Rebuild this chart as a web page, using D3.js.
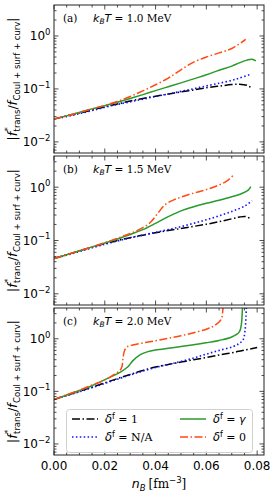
<!DOCTYPE html>
<html><head><meta charset="utf-8">
<script src="https://cdn.jsdelivr.net/npm/d3@7"></script>
<style>body{margin:0;background:#fff}svg{display:block}</style>
</head><body><svg id="c" width="270" height="495"></svg>
<script>
// ---------------- DATA ----------------
const panelTags = ["(a)", "(b)", "(c)"];
const panelTemps = ["1.0", "1.5", "2.0"];
const xTickValues = [0, 0.02, 0.04, 0.06, 0.08];
const xTickLabels = ["0.00", "0.02", "0.04", "0.06", "0.08"];
const yTickValues = [0.01, 0.1, 1];
const yTickExps = ["\u22122", "\u22121", "0"];
const seriesKeys = ["d1", "na", "gamma", "d0"];

// panel (a) kBT = 1.0 MeV
const a_d1_x = [0, .005, .01, .015, .02, .025, .03, .035, .04, .045, .05, .055, .06, .065, .07, .073, .076, .078];
const a_d1_y = [.027, .031, .035, .040, .046, .052, .059, .066, .073, .080, .088, .096, .105, .113, .121, .123, .117, .103];
const a_na_x = [0, .005, .01, .015, .02, .025, .03, .035, .04, .045, .05, .055, .06, .065, .07, .073, .0775];
const a_na_y = [.027, .030, .034, .039, .045, .051, .057, .064, .072, .080, .090, .101, .114, .128, .145, .160, .190];
const a_gm_x = [0, .005, .01, .015, .02, .025, .03, .035, .04, .045, .05, .055, .06, .065, .07, .073, .076, .078, .0795];
const a_gm_y = [.027, .031, .036, .042, .048, .056, .066, .078, .093, .110, .130, .155, .185, .225, .270, .310, .350, .365, .340];
const a_d0_x = [0, .005, .01, .015, .02, .025, .03, .035, .04, .045, .05, .055, .06, .065, .07, .0755];
const a_d0_y = [.027, .031, .036, .042, .049, .058, .072, .092, .120, .160, .230, .320, .400, .480, .580, .860];

// panel (b) kBT = 1.5 MeV
const b_d1_x = [0, .005, .01, .015, .02, .025, .03, .035, .04, .045, .05, .055, .06, .065, .07, .073, .0755, .077];
const b_d1_y = [.046, .054, .064, .075, .087, .100, .113, .126, .140, .154, .168, .184, .202, .225, .255, .275, .282, .262];
const b_na_x = [0, .005, .01, .015, .02, .025, .03, .035, .04, .045, .05, .055, .06, .065, .07, .075, .078];
const b_na_y = [.046, .053, .062, .073, .085, .098, .112, .126, .142, .160, .182, .210, .245, .290, .350, .440, .560];
const b_gm_x = [0, .005, .01, .015, .02, .025, .03, .035, .04, .045, .05, .055, .06, .065, .07, .074, .0765, .0775];
const b_gm_y = [.046, .054, .064, .076, .090, .107, .130, .160, .210, .280, .360, .430, .500, .570, .660, .760, .880, 1.02];
const b_d0_x = [0, .005, .01, .015, .02, .025, .03, .035, .038, .041, .044, .048, .052, .056, .06, .064, .068, .0705];
const b_d0_y = [.046, .054, .064, .076, .091, .110, .135, .175, .220, .330, .480, .600, .700, .800, .900, 1.05, 1.30, 1.65];

// panel (c) kBT = 2.0 MeV
const c_d1_x = [0, .005, .01, .015, .02, .025, .03, .035, .04, .045, .05, .055, .06, .065, .07, .075, .08];
const c_d1_y = [.070, .084, .100, .120, .145, .175, .210, .250, .290, .325, .360, .400, .440, .490, .540, .610, .680];
const c_na_x = [0, .005, .01, .015, .02, .025, .03, .035, .04, .045, .05, .055, .06, .065, .0705, .073, .0745, .0752, .0756, .0758];
const c_na_y = [.070, .083, .098, .118, .142, .170, .205, .243, .285, .325, .370, .430, .510, .600, .710, .820, .960, 1.40, 2.60, 5.0];
const c_gm_x = [0, .005, .01, .015, .018, .022, .026, .029, .031, .034, .037, .04, .045, .05, .055, .06, .065, .07, .073, .0738, .0741, .0743];
const c_gm_y = [.070, .085, .104, .128, .150, .185, .230, .290, .380, .500, .570, .610, .660, .710, .770, .840, .930, 1.08, 1.35, 1.90, 3.0, 5.0];
const c_d0_x = [0, .005, .01, .015, .02, .023, .026, .0268, .0272, .0278, .0288, .031, .035, .04, .045, .05, .055, .06, .063, .0658, .0664, .0667];
const c_d0_y = [.070, .086, .105, .132, .165, .200, .250, .300, .440, .600, .700, .760, .830, .920, 1.02, 1.14, 1.30, 1.52, 1.75, 2.30, 3.2, 5.0];

const panelSeries = [
  {d1: [a_d1_x, a_d1_y], na: [a_na_x, a_na_y], gamma: [a_gm_x, a_gm_y], d0: [a_d0_x, a_d0_y]},
  {d1: [b_d1_x, b_d1_y], na: [b_na_x, b_na_y], gamma: [b_gm_x, b_gm_y], d0: [b_d0_x, b_d0_y]},
  {d1: [c_d1_x, c_d1_y], na: [c_na_x, c_na_y], gamma: [c_gm_x, c_gm_y], d0: [c_d0_x, c_d0_y]}
];

// ---------------- STYLE / LAYOUT ----------------
const SANS = "DejaVu Sans", SERIF = "DejaVu Serif";
const styles = {
  d1: {color: "#000000", dash: "8 2.5 1.5 2.5", w: 1.5},
  na: {color: "#1010ff", dash: "1.5 2.4", w: 1.6},
  gamma: {color: "#2a9a2a", dash: null, w: 1.5},
  d0: {color: "#ff4a10", dash: "8 2.5 1.5 2.5", w: 1.5}
};
const X0 = 54, X1 = 264;
const panels = [[5, 153], [156, 305], [308, 455]];
const svg = d3.select("#c");

const x = d3.scaleLinear().domain([0, 0.0827]).range([X0, X1]);

function rich(g, pieces, x0, y0, align) {
  const grp = g.append("g");
  let cx = 0;
  pieces.forEach(p => {
    const items = p.stack ? p.stack : [p];
    let w = 0;
    items.forEach(q => {
      const t = grp.append("text").attr("x", cx).attr("y", -(q.sh || 0))
        .attr("font-family", q.ff || SANS).attr("font-size", q.fs)
        .attr("font-style", q.it ? "italic" : "normal").attr("fill", "#000")
        .style("white-space", "pre").text(q.t);
      w = Math.max(w, t.node().getComputedTextLength());
    });
    cx += w + (p.gap || 0);
  });
  const off = align === "middle" ? -cx / 2 : align === "end" ? -cx : 0;
  grp.attr("transform", `translate(${x0 + off},${y0})`);
  return grp;
}

panels.forEach(([top, bot], i) => {
  const y = d3.scaleLog().domain([Math.pow(10, -2.21), Math.pow(10, 0.585)]).range([bot, top]);
  const g = svg.append("g");
  const cid = "clip" + i;
  svg.append("clipPath").attr("id", cid).append("rect")
    .attr("x", X0).attr("y", top).attr("width", X1 - X0).attr("height", bot - top);

  const line = d3.line().x(d => x(d[0])).y(d => y(d[1])).curve(d3.curveCatmullRom.alpha(0.5));
  const lg = g.append("g").attr("clip-path", `url(#${cid})`);
  seriesKeys.forEach(k => {
    const [xs, ys] = panelSeries[i][k];
    const pts = xs.map((v, j) => [v, ys[j]]);
    const st = styles[k];
    lg.append("path").attr("d", line(pts)).attr("fill", "none")
      .attr("stroke", st.color).attr("stroke-width", st.w)
      .attr("stroke-dasharray", st.dash);
  });

  // axes: ticks inward on all sides
  const xMinor = d3.range(0, 0.0827, 0.005);
  const tk = g.append("g").attr("stroke", "#222").attr("stroke-width", 0.8);
  xMinor.forEach(v => {
    const major = xTickValues.some(t => Math.abs(t - v) < 1e-9);
    const L = major ? 4.5 : 2.5;
    tk.append("line").attr("x1", x(v)).attr("x2", x(v)).attr("y1", bot).attr("y2", bot - L);
    tk.append("line").attr("x1", x(v)).attr("x2", x(v)).attr("y1", top).attr("y2", top + L);
  });
  const yMinor = [];
  [0.001, 0.01, 0.1, 1].forEach(dec => { for (let m = 2; m <= 9; m++) yMinor.push(dec * m); });
  yMinor.filter(v => v > y.domain()[0] && v < y.domain()[1]).forEach(v => {
    tk.append("line").attr("x1", X0).attr("x2", X0 + 2.5).attr("y1", y(v)).attr("y2", y(v));
    tk.append("line").attr("x1", X1).attr("x2", X1 - 2.5).attr("y1", y(v)).attr("y2", y(v));
  });
  yTickValues.forEach((v, j) => {
    tk.append("line").attr("x1", X0).attr("x2", X0 + 4.5).attr("y1", y(v)).attr("y2", y(v));
    tk.append("line").attr("x1", X1).attr("x2", X1 - 4.5).attr("y1", y(v)).attr("y2", y(v));
    rich(g, [{t: "10", fs: 12}, {t: yTickExps[j], fs: 8.5, sh: 5.5}], 50.5, y(v) + 4.5, "end");
  });
  g.append("rect").attr("x", X0).attr("y", top).attr("width", X1 - X0).attr("height", bot - top)
    .attr("fill", "none").attr("stroke", "#222").attr("stroke-width", 1);

  // annotation
  rich(g, [{t: panelTags[i], fs: 10.5, ff: SERIF}], 63, top + 16.5, "start");
  rich(g, [{t: "k", fs: 11, it: true}, {t: "B", fs: 7.5, it: true, sh: -2.5}, {t: "T", fs: 11, it: true},
           {t: " = " + panelTemps[i] + " MeV", fs: 10.5, ff: SERIF}], 93, top + 16.5, "start");

  // y label
  const yl = svg.append("g").attr("transform", `translate(16.5,${(top + bot) / 2}) rotate(-90)`);
  rich(yl, [
    {t: "|", fs: 12.5},
    {t: "f", fs: 12.5, it: true, gap: 0.5},
    {stack: [{t: "*", fs: 8.5, sh: 5.5}, {t: "trans", fs: 8.5, sh: -3}]},
    {t: "/", fs: 12.5},
    {t: "f", fs: 12.5, it: true, gap: 0.5},
    {t: "Coul + surf + curv", fs: 8.5, sh: -3},
    {t: "|", fs: 12.5}
  ], 0, 0, "middle");
});

// x tick labels
xTickValues.forEach((v, j) => {
  svg.append("text").attr("x", x(v)).attr("y", 470).attr("text-anchor", "middle")
    .attr("font-family", SANS).attr("font-size", 12).text(xTickLabels[j]);
});
// x label
rich(svg, [{t: "n", fs: 12.5, it: true}, {t: "B", fs: 8.5, it: true, sh: -3, gap: 3},
           {t: "[fm", fs: 12, ff: SERIF}, {t: "\u22123", fs: 8.5, sh: 5}, {t: "]", fs: 12, ff: SERIF}],
     159, 488, "middle");

// legend
const leg = svg.append("g");
leg.append("rect").attr("x", 66.5).attr("y", 409.5).attr("width", 186).attr("height", 43).attr("rx", 3)
  .attr("fill", "#fff").attr("fill-opacity", 0.8).attr("stroke", "#d0d0d0").attr("stroke-width", 1);
const legItems = [
  {k: "d1", col: 0, row: 0, rest: [{t: " = 1", fs: 11, ff: SERIF}]},
  {k: "na", col: 0, row: 1, rest: [{t: " = N/A", fs: 11, ff: SERIF}]},
  {k: "gamma", col: 1, row: 0, rest: [{t: " = ", fs: 11, ff: SERIF}, {t: "\u03b3", fs: 11, it: true}]},
  {k: "d0", col: 1, row: 1, rest: [{t: " = 0", fs: 11, ff: SERIF}]}
];
legItems.forEach(it => {
  const lx = it.col ? 180 : 72, ly = it.row ? 437 : 419;
  const st = styles[it.k];
  leg.append("line").attr("x1", lx).attr("x2", lx + 26).attr("y1", ly).attr("y2", ly)
    .attr("stroke", st.color).attr("stroke-width", st.w).attr("stroke-dasharray", st.dash);
  rich(leg, [{t: "\u03b4", fs: 11.5, it: true}, {t: "f", fs: 8, sh: 4.5}].concat(it.rest), lx + 33, ly + 4, "start");
});
</script></body></html>
